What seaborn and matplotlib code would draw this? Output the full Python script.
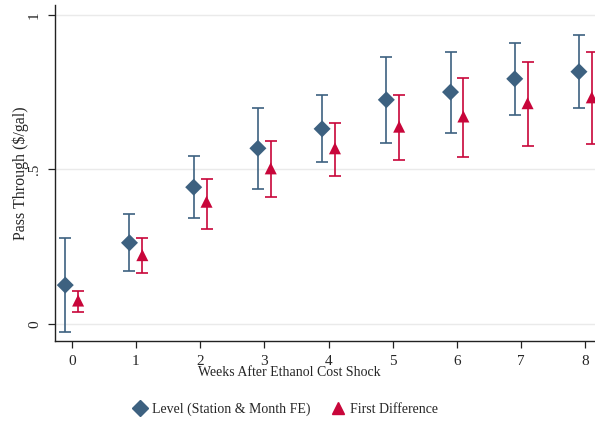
import numpy as np
import pandas as pd
import matplotlib
matplotlib.use("Agg")
import matplotlib.pyplot as plt
import seaborn as sns
from matplotlib.lines import Line2D

# Pass-through estimates by week after the shock, with 95% confidence bounds
weeks = [0, 1, 2, 3, 4, 5, 6, 7, 8]
level_est = [0.125, 0.262, 0.442, 0.568, 0.631, 0.725, 0.750, 0.793, 0.816]
level_lo = [-0.026, 0.170, 0.343, 0.437, 0.522, 0.586, 0.619, 0.676, 0.700]
level_hi = [0.277, 0.356, 0.542, 0.698, 0.741, 0.863, 0.880, 0.910, 0.934]
fd_est = [0.075, 0.222, 0.395, 0.503, 0.568, 0.638, 0.671, 0.714, 0.733]
fd_lo = [0.037, 0.163, 0.308, 0.409, 0.479, 0.529, 0.541, 0.576, 0.581]
fd_hi = [0.107, 0.278, 0.470, 0.590, 0.649, 0.739, 0.796, 0.849, 0.881]
series_names = ["Level (Station & Month FE)", "First Difference"]
y_ticks = [0, 0.5, 1]
y_tick_labels = ["0", ".5", "1"]

sns.set_theme(style="white")
plt.rcParams["font.family"] = ["Liberation Serif", "DejaVu Serif"]

blue = "#3d6180"
red = "#c8063a"
offset = 0.1

df = pd.concat([
    pd.DataFrame({"week": np.array(weeks) - offset, "est": level_est,
                  "lo": level_lo, "hi": level_hi, "model": series_names[0]}),
    pd.DataFrame({"week": np.array(weeks) + offset, "est": fd_est,
                  "lo": fd_lo, "hi": fd_hi, "model": series_names[1]}),
], ignore_index=True)

fig = plt.figure(figsize=(5.95, 4.24), dpi=100)
ax = fig.add_axes([55 / 595, 1 - 341 / 424, 540 / 595, 336 / 424])

for y in y_ticks:
    ax.axhline(y, color="#eaeaea", lw=1.0, zorder=0)

palette = {series_names[0]: blue, series_names[1]: red}
for name, sub in df.groupby("model", sort=False):
    ax.errorbar(sub["week"], sub["est"],
                yerr=[sub["est"] - sub["lo"], sub["hi"] - sub["est"]],
                fmt="none", ecolor=palette[name], elinewidth=1.2,
                capsize=4, capthick=1.2, zorder=2)

sns.scatterplot(data=df, x="week", y="est", hue="model", style="model",
                palette=palette, markers={series_names[0]: "D", series_names[1]: "^"},
                s=75, edgecolor="none", linewidth=0, legend=False, ax=ax, zorder=3)

ax.set_xlim(-0.26, 8.15)
ax.set_ylim(-0.056, 1.032)
ax.set_xticks(weeks)
ax.set_xticklabels([str(w) for w in weeks], fontsize=11)
ax.set_yticks(y_ticks)
ax.set_yticklabels(y_tick_labels, fontsize=11, rotation=90, va="center")
ax.tick_params(axis="both", direction="out", length=5, width=0.9, color="#222222",
               bottom=True, left=True, pad=5)
for side in ["top", "right"]:
    ax.spines[side].set_visible(False)
for side in ["left", "bottom"]:
    ax.spines[side].set_color("#222222")
    ax.spines[side].set_linewidth(1.0)

ax.set_xlabel("")
ax.set_ylabel("Pass Through ($/gal)", fontsize=11.5)
ax.yaxis.set_label_coords(-26 / 540, 0.5)
fig.text(289 / 595, 1 - 373 / 424, "Weeks After Ethanol Cost Shock",
         ha="center", va="center", fontsize=10)

handles = [
    Line2D([], [], marker="D", color=blue, linestyle="none", markersize=8),
    Line2D([], [], marker="^", color=red, linestyle="none", markersize=9),
]
fig.legend(handles, series_names, loc="center", bbox_to_anchor=(285 / 595, 1 - 409 / 424),
           ncol=2, frameon=False, fontsize=10, handletextpad=0.3, columnspacing=1.35,
           handlelength=1.2)

fig.savefig("out.png", dpi=100)
